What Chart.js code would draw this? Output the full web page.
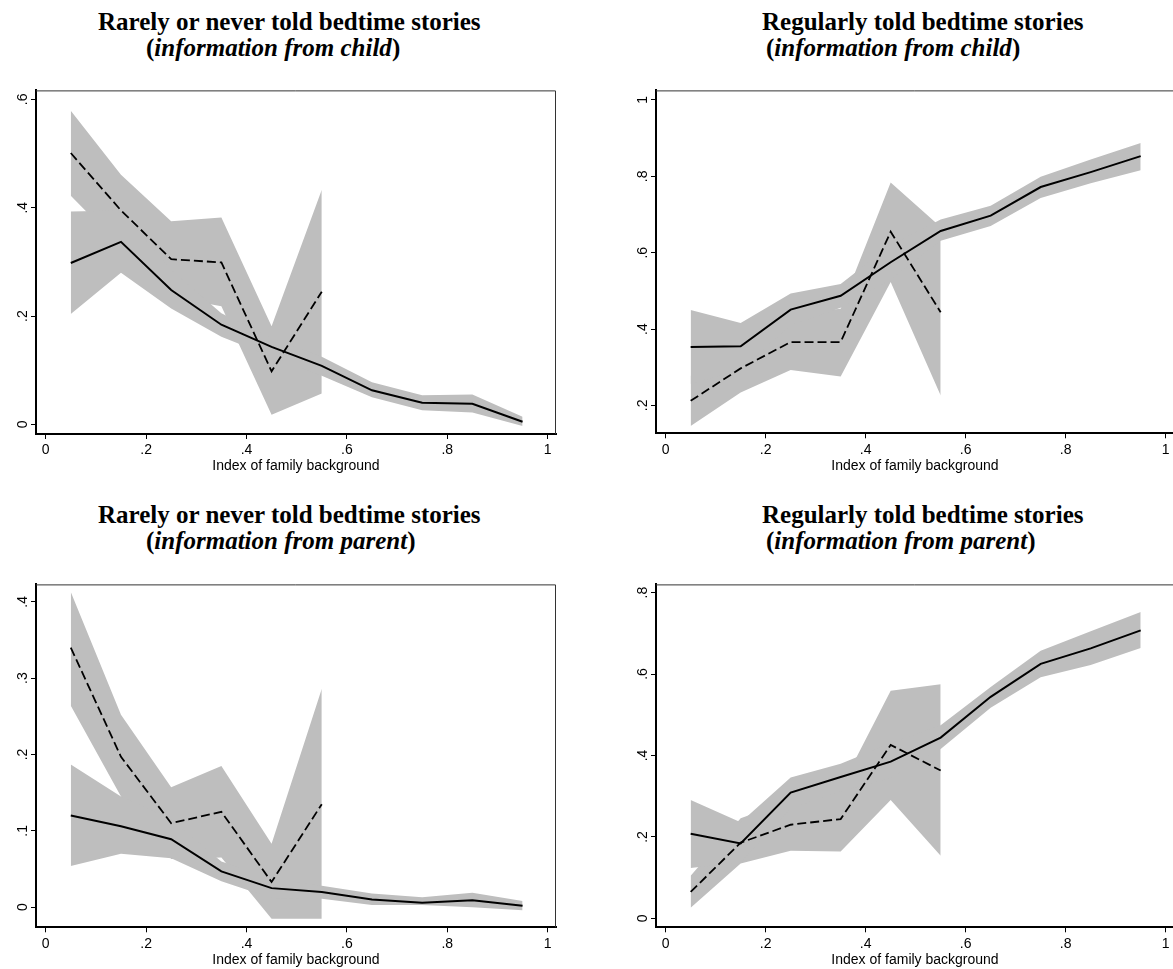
<!DOCTYPE html>
<html>
<head>
  <meta charset="UTF-8">
  <title>Bedtime stories and family background</title>
  <script src="https://cdn.jsdelivr.net/npm/chart.js"></script>
  <style>
    html, body { margin: 0; padding: 0; background: #fff; overflow: hidden; }
    body { width: 1173px; height: 969px; position: relative; }
    .title { position: absolute; font-family: "Liberation Serif", "Times New Roman", serif; font-weight: bold; font-size: 25px; line-height: 26px; white-space: nowrap; color: #000; }
    canvas { position: absolute; }
  </style>
</head>
<body>
  <div class="title" style="left:98px; top:9px;">Rarely or never told bedtime stories</div>
  <div class="title" style="left:146px; top:35px;">(<i>information from child</i>)</div>
  <div class="title" style="left:762px; top:9px;">Regularly told bedtime stories</div>
  <div class="title" style="left:766px; top:35px;">(<i>information from child</i>)</div>
  <div class="title" style="left:98px; top:502px;">Rarely or never told bedtime stories</div>
  <div class="title" style="left:146px; top:528px;">(<i>information from parent</i>)</div>
  <div class="title" style="left:762px; top:502px;">Regularly told bedtime stories</div>
  <div class="title" style="left:766px; top:528px;">(<i>information from parent</i>)</div>

  <canvas id="c1" width="580" height="400" style="left:0; top:80px;"></canvas>
  <canvas id="c2" width="555" height="400" style="left:620px; top:80px;"></canvas>
  <canvas id="c3" width="580" height="400" style="left:0; top:574px;"></canvas>
  <canvas id="c4" width="555" height="400" style="left:620px; top:574px;"></canvas>

  <script>
    // x positions of the estimates (all groups / low-background groups only)
    const xAll = [0.05, 0.15, 0.25, 0.35, 0.45, 0.55, 0.65, 0.75, 0.85, 0.95];
    const xLow = [0.05, 0.15, 0.25, 0.35, 0.45, 0.55];
    const xTicks = [0, 0.2, 0.4, 0.6, 0.8, 1];

    // rarely or never told, information from child
    const childRareSolid   = [0.298, 0.337, 0.248, 0.184, 0.143, 0.108, 0.063, 0.040, 0.038, 0.005];
    const childRareSolidHi = [0.393, 0.395, 0.285, 0.205, 0.160, 0.125, 0.078, 0.054, 0.055, 0.014];
    const childRareSolidLo = [0.204, 0.280, 0.214, 0.162, 0.125, 0.090, 0.050, 0.026, 0.022, -0.003];
    const childRareDashed   = [0.501, 0.395, 0.305, 0.299, 0.098, 0.245];
    const childRareDashedHi = [0.579, 0.461, 0.375, 0.382, 0.181, 0.433];
    const childRareDashedLo = [0.422, 0.328, 0.235, 0.218, 0.018, 0.057];
    const childRareTicks = [0, 0.2, 0.4, 0.6];

    // regularly told, information from child
    const childRegSolid   = [0.353, 0.355, 0.451, 0.487, 0.575, 0.657, 0.697, 0.772, 0.811, 0.853];
    const childRegSolidHi = [0.450, 0.416, 0.493, 0.518, 0.620, 0.687, 0.723, 0.799, 0.844, 0.887];
    const childRegSolidLo = [0.256, 0.294, 0.410, 0.456, 0.530, 0.631, 0.670, 0.743, 0.782, 0.816];
    const childRegDashed   = [0.212, 0.297, 0.366, 0.366, 0.655, 0.444];
    const childRegDashedHi = [0.278, 0.360, 0.440, 0.453, 0.784, 0.667];
    const childRegDashedLo = [0.146, 0.234, 0.293, 0.276, 0.523, 0.226];
    const childRegTicks = [0.2, 0.4, 0.6, 0.8, 1];

    // rarely or never told, information from parent
    const parentRareSolid   = [0.120, 0.106, 0.089, 0.047, 0.025, 0.020, 0.010, 0.006, 0.009, 0.002];
    const parentRareSolidHi = [0.187, 0.145, 0.115, 0.060, 0.038, 0.028, 0.018, 0.013, 0.019, 0.008];
    const parentRareSolidLo = [0.054, 0.070, 0.064, 0.034, 0.012, 0.011, 0.003, 0.003, 0.000, -0.004];
    const parentRareDashed   = [0.340, 0.197, 0.110, 0.125, 0.033, 0.135];
    const parentRareDashedHi = [0.413, 0.252, 0.157, 0.185, 0.083, 0.286];
    const parentRareDashedLo = [0.264, 0.145, 0.063, 0.065, -0.015, -0.015];
    const parentRareTicks = [0, 0.1, 0.2, 0.3, 0.4];

    // regularly told, information from parent
    const parentRegSolid   = [0.208, 0.184, 0.309, 0.347, 0.385, 0.444, 0.544, 0.625, 0.663, 0.707];
    const parentRegSolidHi = [0.291, 0.236, 0.346, 0.380, 0.430, 0.474, 0.568, 0.657, 0.705, 0.752];
    const parentRegSolidLo = [0.124, 0.138, 0.270, 0.312, 0.345, 0.416, 0.517, 0.592, 0.622, 0.664];
    const parentRegDashed   = [0.065, 0.186, 0.230, 0.244, 0.426, 0.363];
    const parentRegDashedHi = [0.105, 0.246, 0.290, 0.320, 0.559, 0.575];
    const parentRegDashedLo = [0.026, 0.135, 0.166, 0.164, 0.291, 0.154];
    const parentRegTicks = [0, 0.2, 0.4, 0.6, 0.8];

    const band = '#bebebe';
    const sans = { family: '"Liberation Sans", Arial, sans-serif', size: 14 };

    const pts = (xs, ys) => ys.map((y, i) => ({ x: xs[i], y: y }));
    const fmt = v => (v === 0 ? '0' : v === 1 ? '1' : String(v).replace(/^0\./, '.'));

    // thin outline on the top and right of the plot region
    const frame = {
      id: 'frame',
      afterDraw(chart) {
        const a = chart.chartArea, ctx = chart.ctx;
        ctx.save();
        ctx.strokeStyle = '#333';
        ctx.lineWidth = 1;
        ctx.beginPath();
        ctx.moveTo(a.left, a.top + 0.5);
        ctx.lineTo(a.right - 0.5, a.top + 0.5);
        ctx.lineTo(a.right - 0.5, a.bottom);
        ctx.stroke();
        ctx.restore();
      }
    };

    function panel(id, p) {
      const line = (data, dash) => ({
        data: data, borderColor: '#000', borderWidth: dash ? 1.8 : 2,
        borderDash: dash ? [9, 4] : [], fill: false, pointRadius: 0
      });
      const area = (data, fill) => ({
        data: data, borderColor: 'rgba(0,0,0,0)', borderWidth: 1,
        backgroundColor: band, fill: fill, pointRadius: 0
      });
      new Chart(document.getElementById(id), {
        type: 'line',
        data: {
          datasets: [
            line(pts(xAll, p.solid), false),
            line(pts(xLow, p.dashed), true),
            area(pts(xAll, p.solidHi), '+1'),
            area(pts(xAll, p.solidLo), false),
            area(pts(xLow, p.dashedHi), '+1'),
            area(pts(xLow, p.dashedLo), false)
          ]
        },
        options: {
          responsive: false,
          animation: false,
          devicePixelRatio: 1,
          layout: { padding: { top: p.padTop, right: p.padRight, left: 0, bottom: 0 } },
          elements: { line: { tension: 0 } },
          plugins: { legend: { display: false }, tooltip: { enabled: false } },
          scales: {
            x: {
              type: 'linear', min: -0.0193, max: 1.0166,
              afterBuildTicks: s => { s.ticks = xTicks.map(v => ({ value: v })); },
              afterFit: s => { s.height = p.xHeight; },
              border: { display: true, color: '#000', width: 2 },
              grid: { drawOnChartArea: false, drawTicks: true, tickLength: 5, color: '#000', lineWidth: 1 },
              ticks: { font: sans, color: '#000', padding: 3, maxRotation: 0, autoSkip: false, callback: fmt },
              title: { display: true, text: 'Index of family background', font: sans, color: '#000', padding: { top: 0, bottom: 5 } }
            },
            y: {
              type: 'linear', min: p.yMin, max: p.yMax,
              afterBuildTicks: s => { s.ticks = p.yTicks.map(v => ({ value: v })); },
              afterFit: s => { s.width = 36; },
              border: { display: true, color: '#000', width: 2 },
              grid: { drawOnChartArea: false, drawTicks: true, tickLength: 5, color: '#000', lineWidth: 1 },
              ticks: { font: sans, color: '#000', padding: 2, minRotation: 90, maxRotation: 90, crossAlign: 'center', autoSkip: false, callback: fmt }
            }
          }
        },
        plugins: [frame]
      });
    }

    panel('c1', {
      solid: childRareSolid, solidHi: childRareSolidHi, solidLo: childRareSolidLo,
      dashed: childRareDashed, dashedHi: childRareDashedHi, dashedLo: childRareDashedLo,
      yTicks: childRareTicks, yMin: -0.0177, yMax: 0.6166, padTop: 6.7, padRight: 24, xHeight: 46
    });
    panel('c2', {
      solid: childRegSolid, solidHi: childRegSolidHi, solidLo: childRegSolidLo,
      dashed: childRegDashed, dashedHi: childRegDashedHi, dashedLo: childRegDashedLo,
      yTicks: childRegTicks, yMin: 0.127, yMax: 1.025, padTop: 6, padRight: 1, xHeight: 46.7
    });
    panel('c3', {
      solid: parentRareSolid, solidHi: parentRareSolidHi, solidLo: parentRareSolidLo,
      dashed: parentRareDashed, dashedHi: parentRareDashedHi, dashedLo: parentRareDashedLo,
      yTicks: parentRareTicks, yMin: -0.0263, yMax: 0.4228, padTop: 6.7, padRight: 24, xHeight: 46.7
    });
    panel('c4', {
      solid: parentRegSolid, solidHi: parentRegSolidHi, solidLo: parentRegSolidLo,
      dashed: parentRegDashed, dashedHi: parentRegDashedHi, dashedLo: parentRegDashedLo,
      yTicks: parentRegTicks, yMin: -0.0218, yMax: 0.820, padTop: 6, padRight: 1, xHeight: 46.7
    });
  </script>
</body>
</html>
